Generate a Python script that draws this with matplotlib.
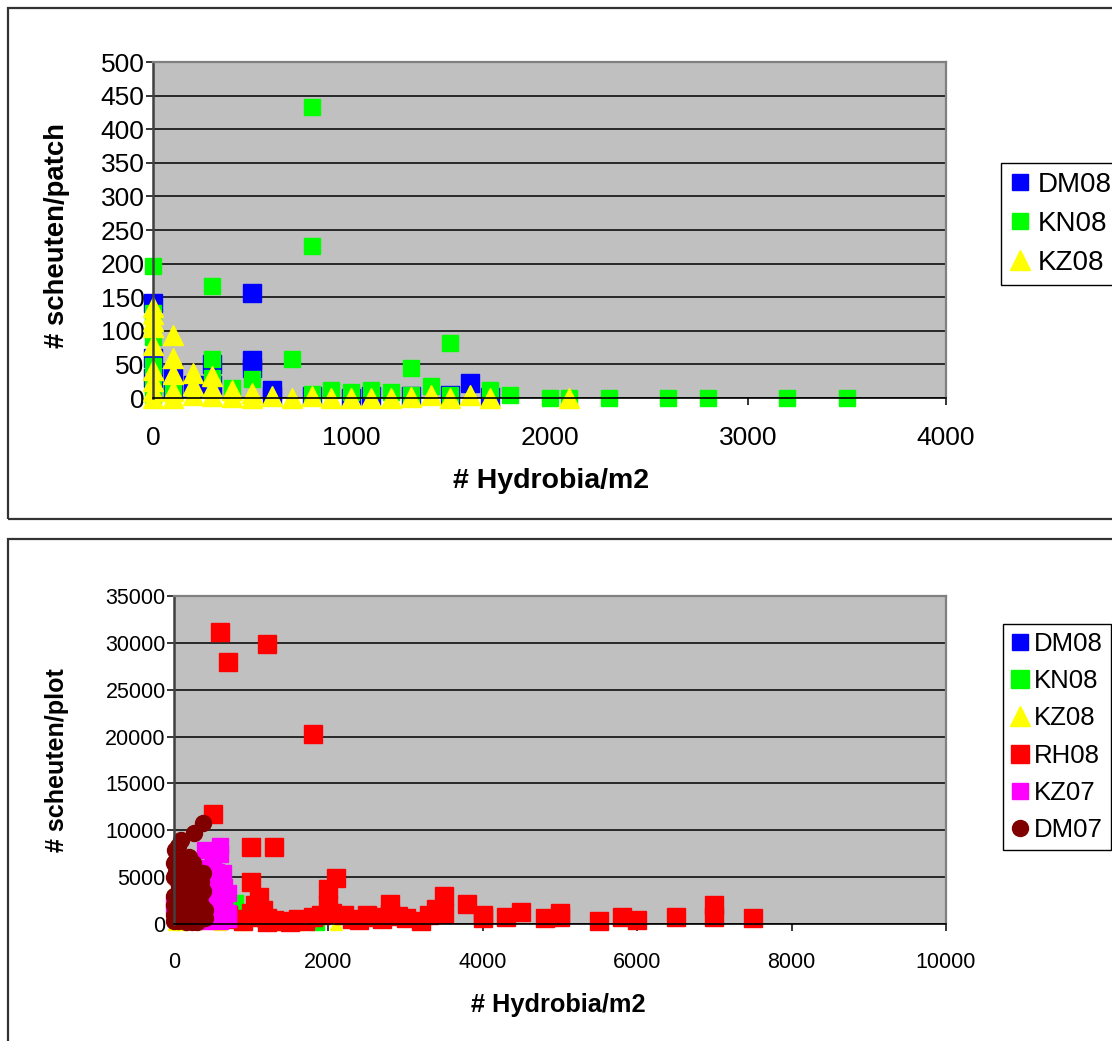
import matplotlib
matplotlib.use("Agg")
import matplotlib.pyplot as plt
from matplotlib.lines import Line2D
from matplotlib.patches import Rectangle

plt.rcParams['font.family'] = ['Liberation Sans', 'DejaVu Sans']

W, H = 1112, 1041

# ---------------- data: scheuten per patch (2008) ----------------
dm08_x = [0, 0, 0, 100, 100, 200, 300, 300, 500, 500, 500, 600, 600, 800,
          1000, 1100, 1300, 1500, 1600, 1700]
dm08_y = [141, 60, 30, 37, 10, 20, 50, 20, 156, 57, 45, 12, 3, 3,
          0, 3, 3, 5, 22, 2]

kn08_x = [0, 0, 0, 0, 0, 0, 100, 300, 300, 300, 400, 500, 700, 800, 800, 800,
          900, 1000, 1100, 1200, 1300, 1300, 1400, 1500, 1500, 1700, 1800,
          2000, 2100, 2300, 2600, 2800, 3200, 3500]
kn08_y = [196, 126, 91, 47, 20, 5, 8, 167, 58, 30, 15, 29, 58, 433, 226, 6,
          12, 9, 12, 9, 44, 5, 18, 82, 5, 12, 5,
          0, 0, 0, 0, 0, 0, 0]

kz08_x = [0, 0, 0, 0, 0, 0, 0, 0, 0,
          100, 100, 100, 100, 100,
          200, 200, 200, 300, 300, 300, 400, 400, 500, 500,
          600, 700, 800, 900, 1000, 1100, 1200, 1300, 1400, 1500, 1600, 1700, 2100]
kz08_y = [135, 125, 115, 105, 79, 42, 25, 10, 0,
          94, 60, 35, 10, 0,
          37, 20, 5, 32, 15, 3, 12, 2, 8, 0,
          3, 0, 3, 0, 0, 0, 0, 2, 5, 0, 5, 0, 0]

# ---------------- data: scheuten per plot (2007 + 2008) ----------------
p_dm08_x = [0, 200, 500, 1600]
p_dm08_y = [1000, 600, 800, 200]

p_kn08_x = [800, 750, 1850, 400, 200, 600]
p_kn08_y = [2400, 1200, 100, 1500, 300, 500]

p_kz08_x = [0, 100, 300, 600, 900, 1300, 1600, 2100]
p_kz08_y = [0, 0, 100, 0, 0, 0, 0, 0]

rh08_x = [600, 700, 1200, 1800, 500, 1000, 1300, 1000, 2100, 1100, 2000, 2000,
          3500, 2800, 3400, 3500, 3800, 4000, 4000, 4300, 4500, 4800, 5000, 5000,
          5500, 5800, 6000, 6500, 7000, 7000, 7500,
          700, 800, 900, 1000, 1100, 1200, 1200, 1300, 1400, 1500, 1600, 1700,
          1800, 1900, 2200, 2300, 2400, 2500, 2600, 2700, 2800, 2900, 3000, 3200,
          3300, 1050, 1150, 2050]
rh08_y = [31200, 28000, 29900, 20300, 11700, 8200, 8250, 4500, 4900, 2900, 3700, 2000,
          3000, 2100, 1600, 1200, 2100, 600, 1000, 700, 1300, 600, 1200, 700,
          300, 800, 400, 800, 2000, 700, 600,
          1000, 500, 300, 1200, 800, 600, 200, 400, 300, 200, 500, 300,
          800, 1000, 1000, 500, 400, 1000, 800, 500, 1100, 900, 600, 300,
          1000, 2000, 1500, 1200]

kz07_x = [600, 400, 600, 640, 500, 600, 400, 300, 200, 100, 0, 50, 300, 600,
          600, 600, 400, 200, 500, 400, 600, 700, 650, 500, 300,
          450, 550, 350, 450, 550, 350, 450, 650, 700, 500, 550, 450, 650, 700, 250]
kz07_y = [8300, 7900, 7500, 5400, 4800, 3500, 6000, 5000, 4000, 3000, 2000, 1000,
          1500, 2000, 1000, 300, 300, 500, 2500, 4500, 4500, 500, 2800, 1200, 3000,
          3800, 3000, 2200, 1800, 1500, 600, 900, 1600, 3300, 6800, 5600, 5300, 4000,
          1200, 1500]

dm07_x = [370, 260, 90, 13, 50, 0, 100, 150, 200, 300, 0, 50, 200, 300, 0, 100,
          250, 300, 0, 150, 300, 0, 100, 250, 300, 0, 150, 300, 200, 50, 250,
          350, 350, 300, 380, 380,
          20, 80, 120, 180, 230, 60, 130, 200, 20, 80, 180, 230, 330, 280, 120,
          30, 200, 260, 340, 400, 400, 90, 160, 50]
dm07_y = [10800, 9700, 9000, 7900, 8300, 6500, 7000, 6000, 5500, 5000, 5000, 4500,
          4000, 3500, 3000, 3500, 3000, 2500, 2000, 2000, 1800, 1000, 1200, 1000,
          800, 300, 200, 200, 800, 6000, 6500, 4500, 2000, 300, 5400, 3500,
          6800, 6200, 5200, 4800, 4400, 3800, 2800, 2600, 1500, 800, 1400, 200,
          1200, 4200, 4200, 5600, 7100, 5800, 3000, 1500, 600, 2300, 3300, 300]

BLUE, GREEN, YELLOW = '#0000FF', '#00FF00', '#FFFF00'
RED, MAGENTA, MAROON = '#FF0000', '#FF00FF', '#800000'
PLOT_BG = '#C0C0C0'


def fx(x):
    return x / W


def fy(y):
    return 1 - y / H


fig = plt.figure(figsize=(W / 100, H / 100), dpi=100)

# chart frames
fig.patches.append(Rectangle((fx(8), fy(519)), fx(1300), fy(8) - fy(519),
                             transform=fig.transFigure, fill=False,
                             edgecolor='#333333', linewidth=1.6))
fig.patches.append(Rectangle((fx(8), fy(1200)), fx(1300), fy(539) - fy(1200),
                             transform=fig.transFigure, fill=False,
                             edgecolor='#333333', linewidth=1.6))


def style_axes(ax, tick_fs):
    ax.set_facecolor(PLOT_BG)
    ax.grid(axis='y', color='black', linewidth=1.1)
    ax.set_axisbelow(True)
    for s in ('top', 'right'):
        ax.spines[s].set_color('#808080')
        ax.spines[s].set_linewidth(1.6)
    ax.spines['left'].set_color('#404040')
    ax.spines['left'].set_linewidth(1.8)
    ax.spines['bottom'].set_color('black')
    ax.spines['bottom'].set_linewidth(1.2)
    ax.tick_params(direction='out', length=5, width=1.1, color='black',
                   labelsize=tick_fs)
    ax.tick_params(axis='x', pad=15)
    ax.tick_params(axis='y', pad=1)


# ---------------- top chart ----------------
ax1 = fig.add_axes([fx(153), fy(398), fx(946) - fx(153), fy(62) - fy(398)])
style_axes(ax1, 19)
ax1.set_xlim(0, 4000)
ax1.set_ylim(0, 500)
ax1.set_xticks(range(0, 4001, 1000))
ax1.set_yticks(range(0, 501, 50))

ax1.plot(dm08_x, dm08_y, ls='none', marker='s', ms=13.5, color=BLUE,
         mec=BLUE, clip_on=False, label='DM08')
ax1.plot(kn08_x, kn08_y, ls='none', marker='s', ms=11.5, color=GREEN,
         mec=GREEN, clip_on=False, label='KN08')
ax1.plot(kz08_x, kz08_y, ls='none', marker='^', ms=15, color=YELLOW,
         mec=YELLOW, clip_on=False, label='KZ08')

fig.text(fx(551), fy(481), '# Hydrobia/m2', ha='center', va='center',
         fontsize=20.5, fontweight='bold')
fig.text(fx(57), fy(235), '# scheuten/patch', ha='center', va='center',
         rotation=90, fontsize=19.8, fontweight='bold')

h1 = [Line2D([], [], ls='none', marker='s', ms=12, color=BLUE, mec=BLUE),
      Line2D([], [], ls='none', marker='s', ms=11, color=GREEN, mec=GREEN),
      Line2D([], [], ls='none', marker='^', ms=14, color=YELLOW, mec=YELLOW)]
leg1 = fig.legend(h1, ['DM08', 'KN08', 'KZ08'], loc='upper left',
                  bbox_to_anchor=(fx(1001), fy(163)), bbox_transform=fig.transFigure,
                  fontsize=20, frameon=True, fancybox=False, edgecolor='black',
                  framealpha=1, borderpad=0.32, handlelength=0.73,
                  handletextpad=0.26, labelspacing=0.47, borderaxespad=0)
leg1.get_frame().set_linewidth(1.0)

# ---------------- bottom chart ----------------
ax2 = fig.add_axes([fx(174), fy(924), fx(946) - fx(174), fy(596) - fy(924)])
style_axes(ax2, 15.5)
ax2.set_xlim(0, 10000)
ax2.set_ylim(0, 35000)
ax2.set_xticks(range(0, 10001, 2000))
ax2.set_yticks(range(0, 35001, 5000))

ax2.plot(p_dm08_x, p_dm08_y, ls='none', marker='s', ms=7, color=BLUE,
         mec=BLUE, clip_on=False)
ax2.plot(p_kn08_x, p_kn08_y, ls='none', marker='s', ms=10, color=GREEN,
         mec=GREEN, clip_on=False)
ax2.plot(p_kz08_x, p_kz08_y, ls='none', marker='^', ms=8, color=YELLOW,
         mec=YELLOW, clip_on=False)
ax2.plot(rh08_x, rh08_y, ls='none', marker='s', ms=13, color=RED,
         mec=RED, clip_on=False)
ax2.plot(kz07_x, kz07_y, ls='none', marker='s', ms=11.5, color=MAGENTA,
         mec=MAGENTA, clip_on=False)
ax2.plot(dm07_x, dm07_y, ls='none', marker='o', ms=11.5, color=MAROON,
         mec=MAROON, clip_on=False)

fig.text(fx(558), fy(1005), '# Hydrobia/m2', ha='center', va='center',
         fontsize=18.3, fontweight='bold')
fig.text(fx(57), fy(760), '# scheuten/plot', ha='center', va='center',
         rotation=90, fontsize=18.1, fontweight='bold')

h2 = [Line2D([], [], ls='none', marker='s', ms=11.5, color=BLUE, mec=BLUE),
      Line2D([], [], ls='none', marker='s', ms=13.5, color=GREEN, mec=GREEN),
      Line2D([], [], ls='none', marker='^', ms=14, color=YELLOW, mec=YELLOW),
      Line2D([], [], ls='none', marker='s', ms=13.5, color=RED, mec=RED),
      Line2D([], [], ls='none', marker='s', ms=11.5, color=MAGENTA, mec=MAGENTA),
      Line2D([], [], ls='none', marker='o', ms=11.5, color=MAROON, mec=MAROON)]
leg2 = fig.legend(h2, ['DM08', 'KN08', 'KZ08', 'RH08', 'KZ07', 'DM07'],
                  loc='upper left', bbox_to_anchor=(fx(1003), fy(624)),
                  bbox_transform=fig.transFigure, fontsize=18.5, frameon=True,
                  fancybox=False, edgecolor='black', framealpha=1,
                  borderpad=0.31, handlelength=0.7, handletextpad=0.2,
                  labelspacing=0.515, borderaxespad=0)
leg2.get_frame().set_linewidth(1.0)

fig.savefig('out.png', dpi=100)
